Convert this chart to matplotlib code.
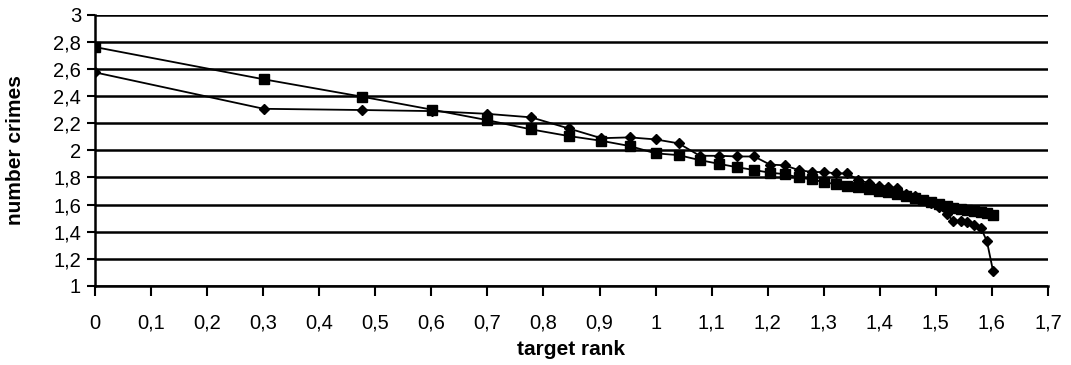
import matplotlib
matplotlib.use("Agg")
import matplotlib.pyplot as plt
from matplotlib.ticker import FuncFormatter, MultipleLocator

plt.rcParams['font.family'] = ['Liberation Sans', 'DejaVu Sans']

# target rank (log10 of rank) for ranks 1..40
rank_log = [0.000, 0.301, 0.477, 0.602, 0.699, 0.778, 0.845, 0.903, 0.954, 1.000,
            1.041, 1.079, 1.114, 1.146, 1.176, 1.204, 1.230, 1.255, 1.279, 1.301,
            1.322, 1.342, 1.362, 1.380, 1.398, 1.415, 1.431, 1.447, 1.462, 1.477,
            1.491, 1.505, 1.519, 1.531, 1.544, 1.556, 1.568, 1.580, 1.591, 1.602]

# number crimes, diamond series
crimes_diamond = [2.576, 2.307, 2.298, 2.290, 2.270, 2.244, 2.162, 2.090, 2.096, 2.081,
                  2.052, 1.960, 1.960, 1.955, 1.955, 1.895, 1.890, 1.855, 1.840, 1.840,
                  1.830, 1.830, 1.780, 1.760, 1.740, 1.730, 1.720, 1.680, 1.660, 1.630,
                  1.615, 1.580, 1.530, 1.480, 1.480, 1.470, 1.450, 1.430, 1.330, 1.110]

# number crimes, square series
crimes_square = [2.763, 2.525, 2.396, 2.300, 2.224, 2.155, 2.106, 2.071, 2.032, 1.978,
                 1.965, 1.928, 1.900, 1.875, 1.855, 1.835, 1.825, 1.800, 1.785, 1.765,
                 1.750, 1.740, 1.730, 1.715, 1.700, 1.690, 1.675, 1.660, 1.650, 1.635,
                 1.620, 1.605, 1.590, 1.575, 1.565, 1.560, 1.555, 1.545, 1.535, 1.520]

fig = plt.figure(figsize=(10.71, 3.65), dpi=100)
ax = fig.add_axes([0.0887, 0.217, 0.8898, 0.742])

ax.plot(rank_log, crimes_square, color='black', lw=1.3, marker='s', ms=6.5, zorder=3)
ax.plot(rank_log, crimes_diamond, color='black', lw=1.3, marker='D', ms=5, zorder=4)

ax.set_xlim(0, 1.7)
ax.set_ylim(1, 3)
ax.xaxis.set_major_locator(MultipleLocator(0.1))
ax.yaxis.set_major_locator(MultipleLocator(0.2))

def comma(v, pos):
    s = f"{v:.1f}".rstrip('0').rstrip('.')
    return s.replace('.', ',')

ax.xaxis.set_major_formatter(FuncFormatter(comma))
ax.yaxis.set_major_formatter(FuncFormatter(comma))

ax.grid(axis='y', color='black', lw=1.8)
ax.set_axisbelow(True)
for side in ['top', 'right']:
    ax.spines[side].set_visible(False)
for side in ['left', 'bottom']:
    ax.spines[side].set_linewidth(1.8)

ax.tick_params(axis='x', direction='out', length=7, width=1.5, pad=13, labelsize=14.5)
ax.tick_params(axis='y', direction='out', length=6, width=1.5, pad=4, labelsize=14.5)

ax.set_xlabel('target rank', fontsize=15, fontweight='bold')
ax.set_ylabel('number crimes', fontsize=15, fontweight='bold')
ax.xaxis.set_label_coords(0.5, -0.20)
ax.yaxis.set_label_coords(-0.073, 0.5)

fig.savefig('out.png', dpi=100)
